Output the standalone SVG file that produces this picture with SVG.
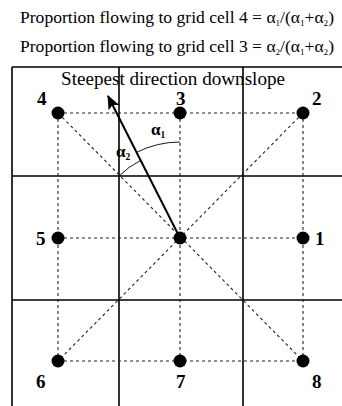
<svg xmlns="http://www.w3.org/2000/svg" width="342" height="406" viewBox="0 0 342 406">
<style>
.num{font-size:19px;font-weight:bold}
.grid{stroke:#000;stroke-width:1.6;fill:none}
.dash{stroke:#222;stroke-width:1.1;stroke-dasharray:3 3;fill:none}
.arc{stroke:#000;stroke-width:0.9;fill:none}
.dot{fill:#000}
</style>
<defs>
<marker id="ah" viewBox="0 0 14 12" refX="13" refY="6" markerWidth="14" markerHeight="12" markerUnits="userSpaceOnUse" orient="auto">
<path d="M0,0 L14,6 L0,12 L3,6 Z" fill="#000"/>
</marker>
</defs>
<rect width="342" height="406" fill="#fff"/>
<g font-family="'Liberation Serif', serif" fill="#000">
<g id="titles" font-size="17.5">
<text x="20" y="23" textLength="314" lengthAdjust="spacingAndGlyphs">Proportion flowing to grid cell 4 = α<tspan font-size="9" dy="3">1</tspan><tspan dy="-3">/(α</tspan><tspan font-size="9" dy="3">1</tspan><tspan dy="-3">+α</tspan><tspan font-size="9" dy="3">2</tspan><tspan dy="-3">)</tspan></text>
<text x="20" y="52" textLength="314" lengthAdjust="spacingAndGlyphs">Proportion flowing to grid cell 3 = α<tspan font-size="9" dy="3">2</tspan><tspan dy="-3">/(α</tspan><tspan font-size="9" dy="3">1</tspan><tspan dy="-3">+α</tspan><tspan font-size="9" dy="3">2</tspan><tspan dy="-3">)</tspan></text>
</g>
<g id="grid">
<path class="grid" d="M12,67 H342 M12,176 H342 M12,300 H342 M12,67 V406 M119,67 V406 M243,67 V406"/>
</g>
<g id="connectors">
<path class="dash" d="M58,113 H303 M58,238 H303 M58,361 H303 M58,113 V361 M180,113 V361 M303,113 V361 M58,113 L303,361 M303,113 L58,361"/>
<line x1="180" y1="238" x2="108" y2="96" stroke="#000" stroke-width="2" marker-end="url(#ah)"/>
<path class="arc" d="M180,142 A96,96 0 0 0 136.6,152.4"/>
<path class="arc" d="M140.6,160.4 A87,87 0 0 0 118.5,176.5"/>
</g>
<g id="labels">
<text x="61" y="85" font-size="18" textLength="224" lengthAdjust="spacingAndGlyphs">Steepest direction downslope</text>
<text x="151" y="135" font-size="17" font-weight="bold">α<tspan font-size="9.5" dy="3">1</tspan></text>
<text x="116" y="157" font-size="17" font-weight="bold">α<tspan font-size="9.5" dy="3">2</tspan></text>
</g>
<g id="cell4"><circle class="dot" cx="58" cy="113" r="6.5"/><text class="num" x="37" y="105">4</text></g>
<g id="cell3"><circle class="dot" cx="180" cy="113" r="6.5"/><text class="num" x="176" y="105">3</text></g>
<g id="cell2"><circle class="dot" cx="303" cy="113" r="6.5"/><text class="num" x="312" y="105">2</text></g>
<g id="cell5"><circle class="dot" cx="58" cy="238" r="6.5"/><text class="num" x="36" y="245">5</text></g>
<g id="center"><circle class="dot" cx="180" cy="238" r="6.5"/></g>
<g id="cell1"><circle class="dot" cx="303" cy="238" r="6.5"/><text class="num" x="315" y="245">1</text></g>
<g id="cell6"><circle class="dot" cx="58" cy="361" r="6.5"/><text class="num" x="36" y="388">6</text></g>
<g id="cell7"><circle class="dot" cx="180" cy="361" r="6.5"/><text class="num" x="176" y="388">7</text></g>
<g id="cell8"><circle class="dot" cx="303" cy="361" r="6.5"/><text class="num" x="312" y="388">8</text></g>
</g>
</svg>
